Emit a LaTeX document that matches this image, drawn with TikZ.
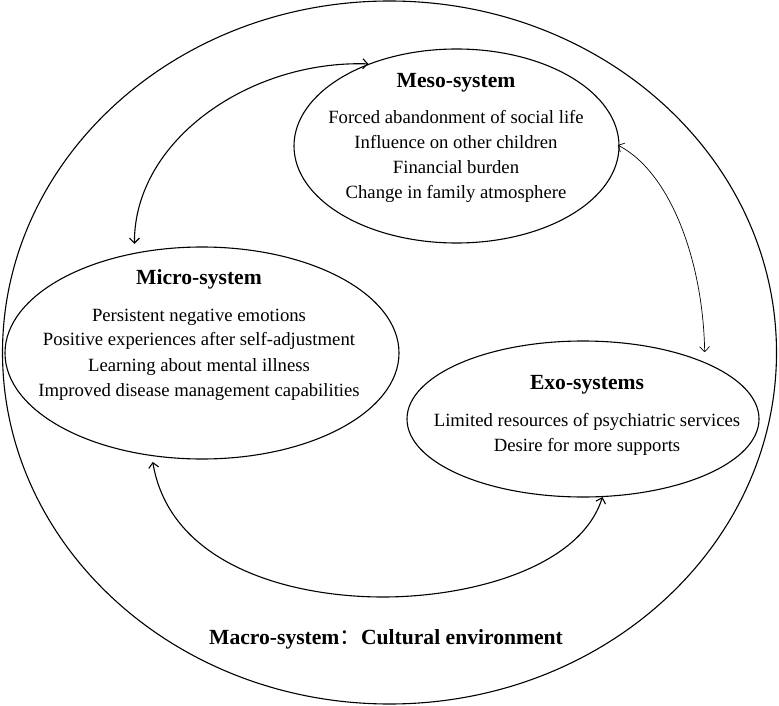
\documentclass[tikz,border=0pt]{standalone}
\usepackage{fontspec}
\setmainfont{Liberation Serif}
\newfontfamily\cjk{Noto Sans CJK SC}
\usetikzlibrary{arrows.meta,shapes.geometric}
\begin{document}
\begin{tikzpicture}[x=1pt,y=-1pt,
  sysbox/.style={draw, ellipse, line width=1.1pt, inner sep=0pt},
  bodytext/.style={anchor=base, inner sep=0pt, font=\fontsize{18.7}{22}\selectfont},
  titletext/.style={anchor=base, inner sep=0pt, font=\fontsize{21.6}{26}\selectfont\bfseries},
  link/.style={line width=1.1pt, {Straight Barb[length=5pt,width=10pt]}-{Straight Barb[length=5pt,width=10pt]}},
  thinlink/.style={line width=0.7pt, {Straight Barb[length=5pt,width=10pt]}-{Straight Barb[length=5pt,width=10pt]}}
]
\useasboundingbox (0,0) rectangle (779,706);

% outer macro-system
\node[sysbox, minimum width=774pt, minimum height=703pt] (macro) at (389.5,352.5) {};

% inner systems
\node[sysbox, minimum width=325pt, minimum height=194pt] (meso) at (456.5,146) {};
\node[sysbox, minimum width=394pt, minimum height=212pt] (micro) at (202,353) {};
\node[sysbox, minimum width=352pt, minimum height=156pt] (exo) at (583,419) {};

% meso text
\node[titletext] (mesoT) at (456,88) {Meso-system};
\node[bodytext] (meso1) at (456,124) {Forced abandonment of social life};
\node[bodytext] (meso2) at (456,149) {Influence on other children};
\node[bodytext] (meso3) at (456,174) {Financial burden};
\node[bodytext] (meso4) at (456,198) {Change in family atmosphere};

% micro text
\node[titletext] (microT) at (199,284) {Micro-system};
\node[bodytext] (micro1) at (199,321) {Persistent negative emotions};
\node[bodytext] (micro2) at (199,345) {Positive experiences after self-adjustment};
\node[bodytext] (micro3) at (199,371) {Learning about mental illness};
\node[bodytext] (micro4) at (199,396) {Improved disease management capabilities};

% exo text
\node[titletext] (exoT) at (587,389) {Exo-systems};
\node[bodytext] (exo1) at (587,426) {Limited resources of psychiatric services};
\node[bodytext] (exo2) at (587,451) {Desire for more supports};

% macro text
\node[titletext] (macroT) at (386,644) {Macro-system{\cjk\mdseries ：}Cultural environment};

% connectors
\draw[link, shorten >=9pt] (meso.137) .. controls (250,60) and (134,140) .. (micro.124);
\draw[thinlink, shorten <=-2pt, shorten >=10pt] (meso.0) .. controls (670,172) and (703,260) .. (exo.25);
\draw[link, shorten <=6pt] (micro.244) .. controls (170,565) and (290,597) .. (383,597)
  .. controls (470,597) and (580,568) .. (exo.284);
\end{tikzpicture}
\end{document}
